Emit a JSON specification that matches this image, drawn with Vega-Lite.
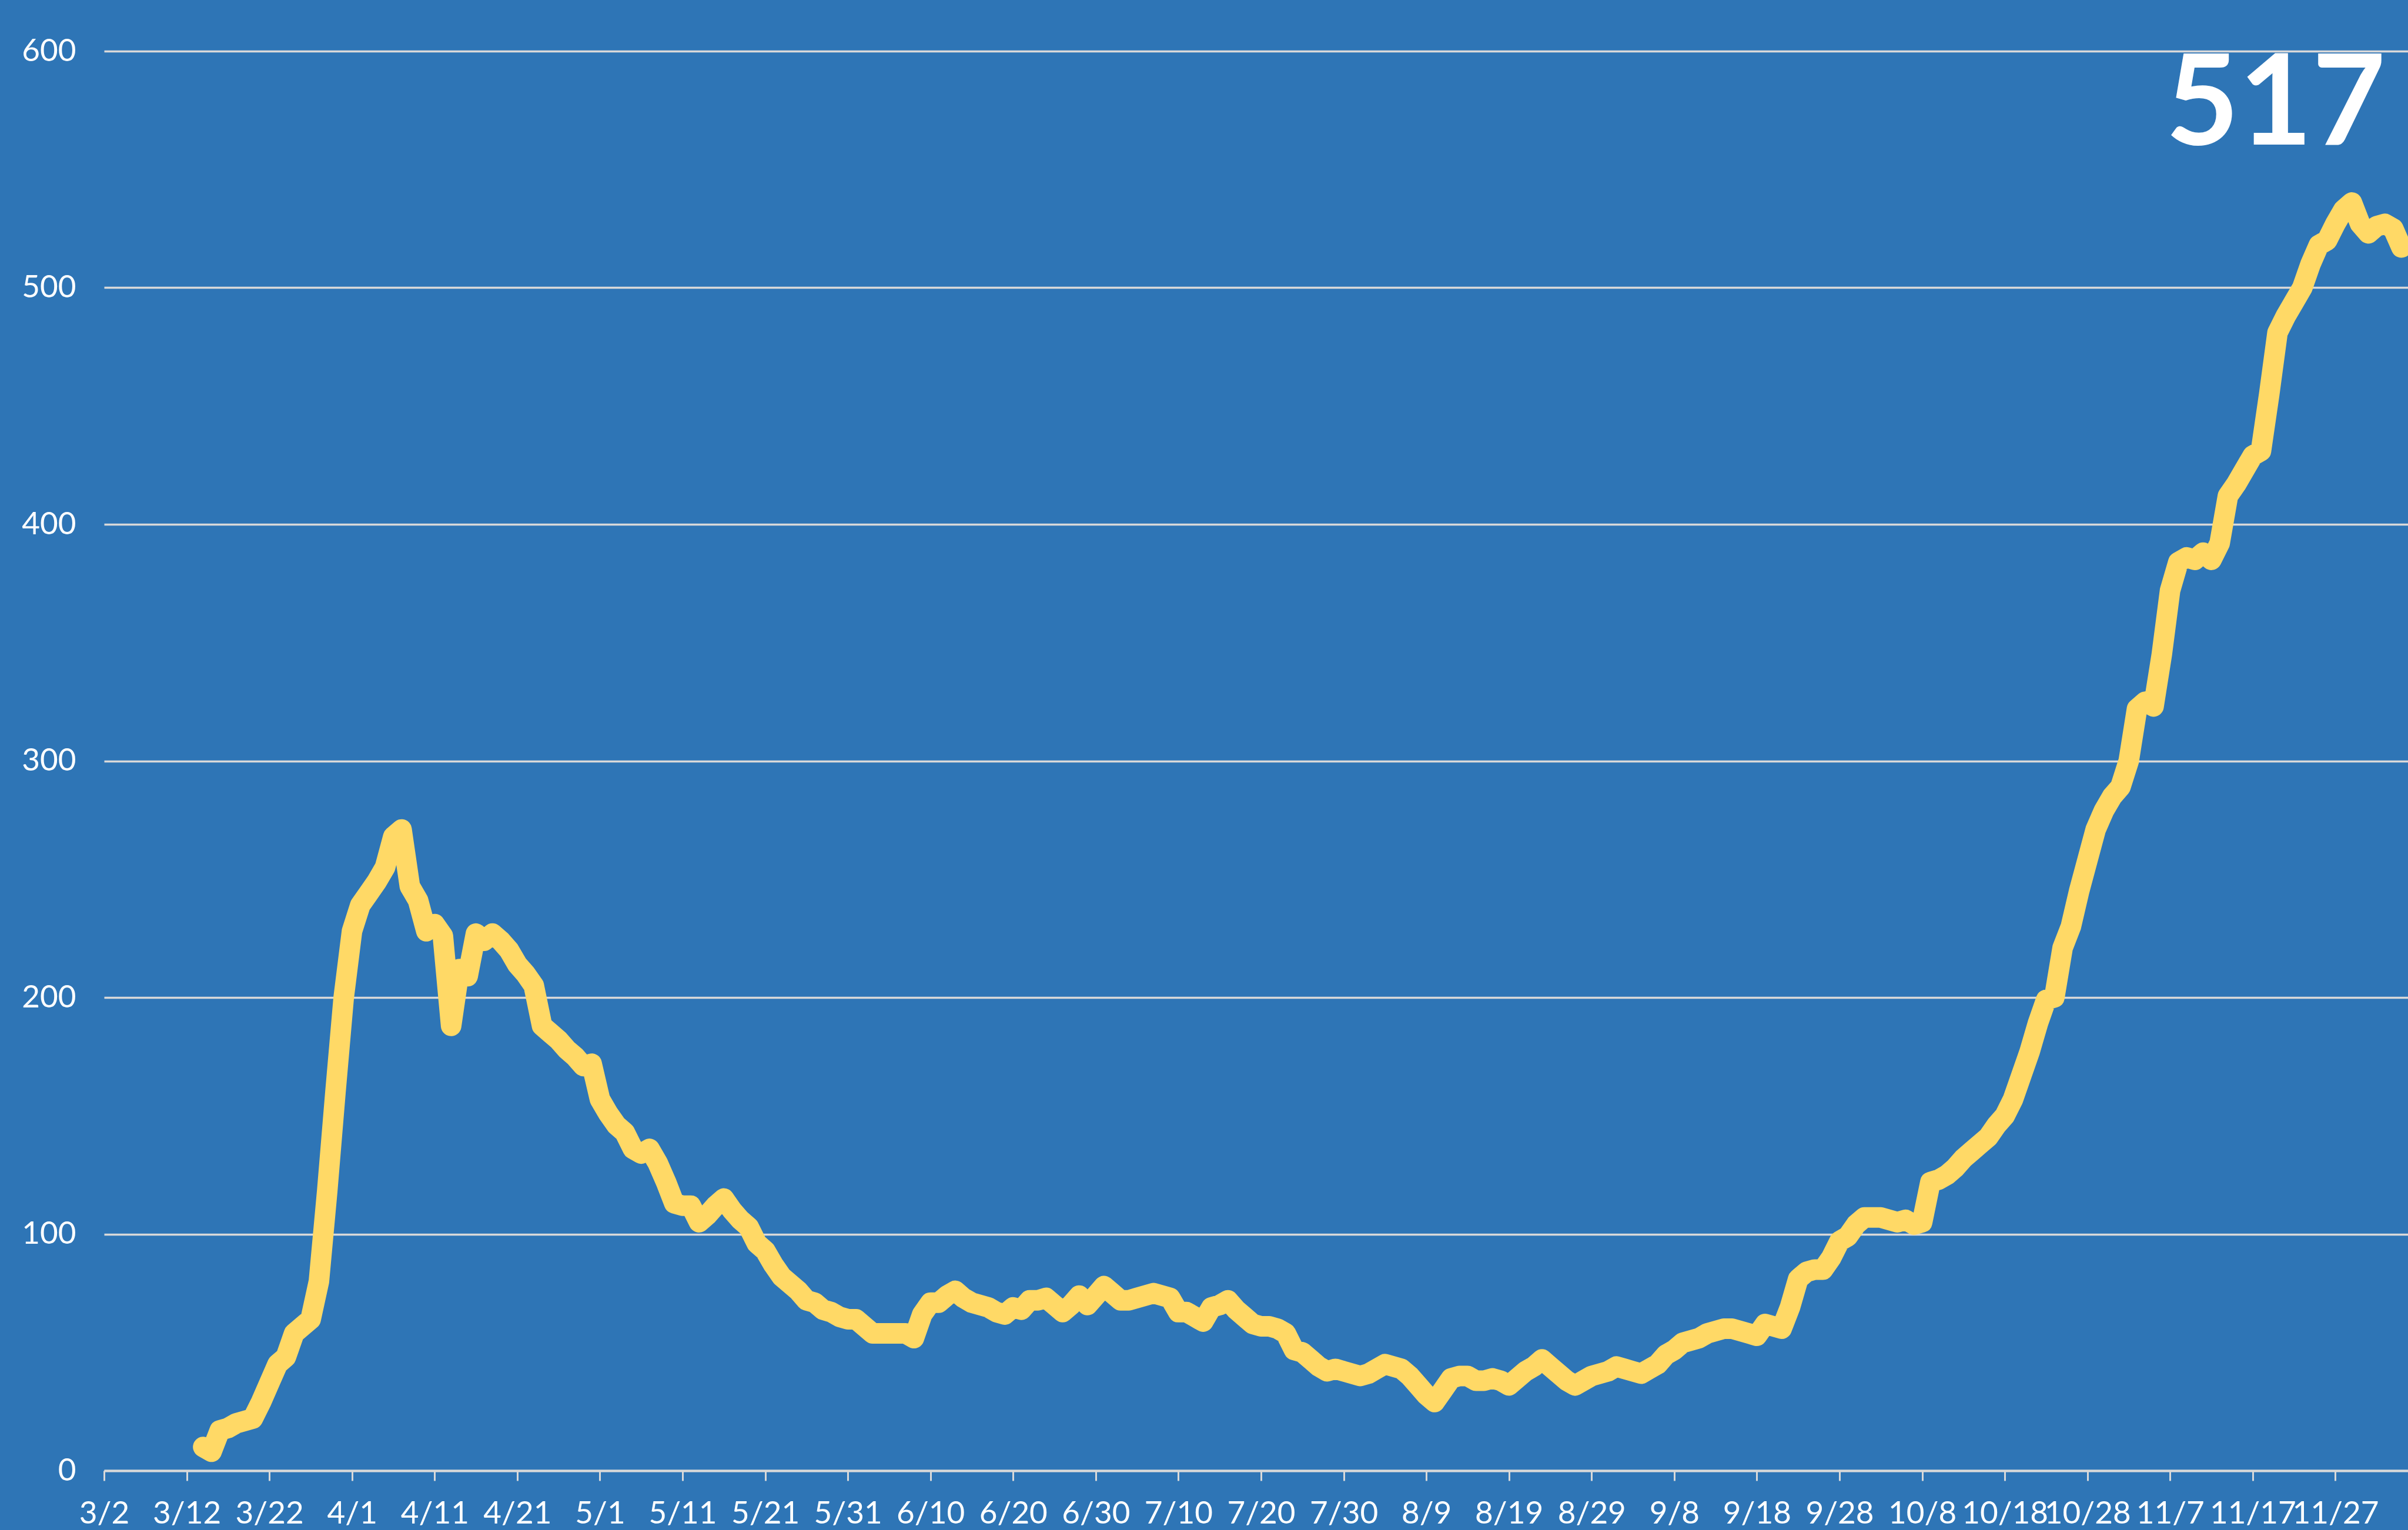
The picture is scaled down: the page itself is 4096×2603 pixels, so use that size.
{
"$schema": "https://vega.github.io/schema/vega-lite/v6.json",
"width": 3919,
"height": 2415,
"autosize": {"type": "none"},
"padding": {"left": 177, "top": 87, "right": 0, "bottom": 101},
"background": "#2E75B6",
"config": {"view": {"stroke": null}, "font": "Lato"},
"data": {"values": [
{"date":"2020-03-14","value":10},{"date":"2020-03-15","value":8},{"date":"2020-03-16","value":17},{"date":"2020-03-17","value":18},{"date":"2020-03-18","value":20},{"date":"2020-03-19","value":21},{"date":"2020-03-20","value":22},{"date":"2020-03-21","value":29},{"date":"2020-03-22","value":37},{"date":"2020-03-23","value":45},{"date":"2020-03-24","value":48},{"date":"2020-03-25","value":58},{"date":"2020-03-26","value":61},{"date":"2020-03-27","value":64},{"date":"2020-03-28","value":80},{"date":"2020-03-29","value":118},{"date":"2020-03-30","value":160},{"date":"2020-03-31","value":200},
{"date":"2020-04-01","value":228},{"date":"2020-04-02","value":239},{"date":"2020-04-03","value":244},{"date":"2020-04-04","value":249},{"date":"2020-04-05","value":255},{"date":"2020-04-06","value":268},{"date":"2020-04-07","value":271},{"date":"2020-04-08","value":247},{"date":"2020-04-09","value":241},{"date":"2020-04-10","value":228},{"date":"2020-04-11","value":231},{"date":"2020-04-12","value":226},{"date":"2020-04-13","value":188},{"date":"2020-04-14","value":212},{"date":"2020-04-15","value":209},{"date":"2020-04-16","value":227},{"date":"2020-04-17","value":224},{"date":"2020-04-18","value":227},{"date":"2020-04-19","value":224},{"date":"2020-04-20","value":220},{"date":"2020-04-21","value":214},{"date":"2020-04-22","value":210},{"date":"2020-04-23","value":205},{"date":"2020-04-24","value":188},{"date":"2020-04-25","value":185},{"date":"2020-04-26","value":182},{"date":"2020-04-27","value":178},{"date":"2020-04-28","value":175},{"date":"2020-04-29","value":171},{"date":"2020-04-30","value":172},
{"date":"2020-05-01","value":157},{"date":"2020-05-02","value":151},{"date":"2020-05-03","value":146},{"date":"2020-05-04","value":143},{"date":"2020-05-05","value":136},{"date":"2020-05-06","value":134},{"date":"2020-05-07","value":136},{"date":"2020-05-08","value":130},{"date":"2020-05-09","value":122},{"date":"2020-05-10","value":113},{"date":"2020-05-11","value":112},{"date":"2020-05-12","value":112},{"date":"2020-05-13","value":105},{"date":"2020-05-14","value":108},{"date":"2020-05-15","value":112},{"date":"2020-05-16","value":115},{"date":"2020-05-17","value":110},{"date":"2020-05-18","value":106},{"date":"2020-05-19","value":103},{"date":"2020-05-20","value":96},{"date":"2020-05-21","value":93},{"date":"2020-05-22","value":87},{"date":"2020-05-23","value":82},{"date":"2020-05-24","value":79},{"date":"2020-05-25","value":76},{"date":"2020-05-26","value":72},{"date":"2020-05-27","value":71},{"date":"2020-05-28","value":68},{"date":"2020-05-29","value":67},{"date":"2020-05-30","value":65},{"date":"2020-05-31","value":64},
{"date":"2020-06-01","value":64},{"date":"2020-06-02","value":61},{"date":"2020-06-03","value":58},{"date":"2020-06-04","value":58},{"date":"2020-06-05","value":58},{"date":"2020-06-06","value":58},{"date":"2020-06-07","value":58},{"date":"2020-06-08","value":56},{"date":"2020-06-09","value":66},{"date":"2020-06-10","value":71},{"date":"2020-06-11","value":71},{"date":"2020-06-12","value":74},{"date":"2020-06-13","value":76},{"date":"2020-06-14","value":73},{"date":"2020-06-15","value":71},{"date":"2020-06-16","value":70},{"date":"2020-06-17","value":69},{"date":"2020-06-18","value":67},{"date":"2020-06-19","value":66},{"date":"2020-06-20","value":69},{"date":"2020-06-21","value":68},{"date":"2020-06-22","value":72},{"date":"2020-06-23","value":72},{"date":"2020-06-24","value":73},{"date":"2020-06-25","value":70},{"date":"2020-06-26","value":67},{"date":"2020-06-27","value":70},{"date":"2020-06-28","value":74},{"date":"2020-06-29","value":70},{"date":"2020-06-30","value":74},
{"date":"2020-07-01","value":78},{"date":"2020-07-02","value":75},{"date":"2020-07-03","value":72},{"date":"2020-07-04","value":72},{"date":"2020-07-05","value":73},{"date":"2020-07-06","value":74},{"date":"2020-07-07","value":75},{"date":"2020-07-08","value":74},{"date":"2020-07-09","value":73},{"date":"2020-07-10","value":67},{"date":"2020-07-11","value":67},{"date":"2020-07-12","value":65},{"date":"2020-07-13","value":63},{"date":"2020-07-14","value":69},{"date":"2020-07-15","value":70},{"date":"2020-07-16","value":72},{"date":"2020-07-17","value":68},{"date":"2020-07-18","value":65},{"date":"2020-07-19","value":62},{"date":"2020-07-20","value":61},{"date":"2020-07-21","value":61},{"date":"2020-07-22","value":60},{"date":"2020-07-23","value":58},{"date":"2020-07-24","value":51},{"date":"2020-07-25","value":50},{"date":"2020-07-26","value":47},{"date":"2020-07-27","value":44},{"date":"2020-07-28","value":42},{"date":"2020-07-29","value":43},{"date":"2020-07-30","value":42},{"date":"2020-07-31","value":41},
{"date":"2020-08-01","value":40},{"date":"2020-08-02","value":41},{"date":"2020-08-03","value":43},{"date":"2020-08-04","value":45},{"date":"2020-08-05","value":44},{"date":"2020-08-06","value":43},{"date":"2020-08-07","value":40},{"date":"2020-08-08","value":36},{"date":"2020-08-09","value":32},{"date":"2020-08-10","value":29},{"date":"2020-08-11","value":34},{"date":"2020-08-12","value":39},{"date":"2020-08-13","value":40},{"date":"2020-08-14","value":40},{"date":"2020-08-15","value":38},{"date":"2020-08-16","value":38},{"date":"2020-08-17","value":39},{"date":"2020-08-18","value":38},{"date":"2020-08-19","value":36},{"date":"2020-08-20","value":39},{"date":"2020-08-21","value":42},{"date":"2020-08-22","value":44},{"date":"2020-08-23","value":47},{"date":"2020-08-24","value":44},{"date":"2020-08-25","value":41},{"date":"2020-08-26","value":38},{"date":"2020-08-27","value":36},{"date":"2020-08-28","value":38},{"date":"2020-08-29","value":40},{"date":"2020-08-30","value":41},{"date":"2020-08-31","value":42},
{"date":"2020-09-01","value":44},{"date":"2020-09-02","value":43},{"date":"2020-09-03","value":42},{"date":"2020-09-04","value":41},{"date":"2020-09-05","value":43},{"date":"2020-09-06","value":45},{"date":"2020-09-07","value":49},{"date":"2020-09-08","value":51},{"date":"2020-09-09","value":54},{"date":"2020-09-10","value":55},{"date":"2020-09-11","value":56},{"date":"2020-09-12","value":58},{"date":"2020-09-13","value":59},{"date":"2020-09-14","value":60},{"date":"2020-09-15","value":60},{"date":"2020-09-16","value":59},{"date":"2020-09-17","value":58},{"date":"2020-09-18","value":57},{"date":"2020-09-19","value":62},{"date":"2020-09-20","value":61},{"date":"2020-09-21","value":60},{"date":"2020-09-22","value":69},{"date":"2020-09-23","value":81},{"date":"2020-09-24","value":84},{"date":"2020-09-25","value":85},{"date":"2020-09-26","value":85},{"date":"2020-09-27","value":90},{"date":"2020-09-28","value":97},{"date":"2020-09-29","value":99},{"date":"2020-09-30","value":104},
{"date":"2020-10-01","value":107},{"date":"2020-10-02","value":107},{"date":"2020-10-03","value":107},{"date":"2020-10-04","value":106},{"date":"2020-10-05","value":105},{"date":"2020-10-06","value":106},{"date":"2020-10-07","value":104},{"date":"2020-10-08","value":105},{"date":"2020-10-09","value":122},{"date":"2020-10-10","value":123},{"date":"2020-10-11","value":125},{"date":"2020-10-12","value":128},{"date":"2020-10-13","value":132},{"date":"2020-10-14","value":135},{"date":"2020-10-15","value":138},{"date":"2020-10-16","value":141},{"date":"2020-10-17","value":146},{"date":"2020-10-18","value":150},{"date":"2020-10-19","value":157},{"date":"2020-10-20","value":167},{"date":"2020-10-21","value":177},{"date":"2020-10-22","value":189},{"date":"2020-10-23","value":199},{"date":"2020-10-24","value":200},{"date":"2020-10-25","value":221},{"date":"2020-10-26","value":230},{"date":"2020-10-27","value":245},{"date":"2020-10-28","value":258},{"date":"2020-10-29","value":271},{"date":"2020-10-30","value":279},{"date":"2020-10-31","value":285},
{"date":"2020-11-01","value":289},{"date":"2020-11-02","value":300},{"date":"2020-11-03","value":322},{"date":"2020-11-04","value":325},{"date":"2020-11-05","value":323},{"date":"2020-11-06","value":345},{"date":"2020-11-07","value":372},{"date":"2020-11-08","value":384},{"date":"2020-11-09","value":386},{"date":"2020-11-10","value":385},{"date":"2020-11-11","value":388},{"date":"2020-11-12","value":385},{"date":"2020-11-13","value":392},{"date":"2020-11-14","value":412},{"date":"2020-11-15","value":417},{"date":"2020-11-16","value":423},{"date":"2020-11-17","value":429},{"date":"2020-11-18","value":431},{"date":"2020-11-19","value":455},{"date":"2020-11-20","value":481},{"date":"2020-11-21","value":488},{"date":"2020-11-22","value":494},{"date":"2020-11-23","value":500},{"date":"2020-11-24","value":510},{"date":"2020-11-25","value":518},{"date":"2020-11-26","value":520},{"date":"2020-11-27","value":527},{"date":"2020-11-28","value":533},{"date":"2020-11-29","value":536},{"date":"2020-11-30","value":527},
{"date":"2020-12-01","value":523},{"date":"2020-12-02","value":526},{"date":"2020-12-03","value":527},{"date":"2020-12-04","value":525},{"date":"2020-12-05","value":517}
]},
"layer": [
{
"mark": {"type": "line", "color": "#FFD966", "strokeWidth": 35, "strokeCap": "round", "strokeJoin": "round"},
"encoding": {
"x": {"field": "date", "type": "temporal",
"scale": {"type": "utc", "nice": false, "domain": [{"year": 2020, "month": 3, "date": 2, "utc": true}, {"year": 2020, "month": 12, "date": 5, "hours": 19, "utc": true}]},
"axis": {"title": null, "grid": false,
"values": [
{"year":2020,"month":3,"date":2,"utc":true},{"year":2020,"month":3,"date":12,"utc":true},{"year":2020,"month":3,"date":22,"utc":true},
{"year":2020,"month":4,"date":1,"utc":true},{"year":2020,"month":4,"date":11,"utc":true},{"year":2020,"month":4,"date":21,"utc":true},
{"year":2020,"month":5,"date":1,"utc":true},{"year":2020,"month":5,"date":11,"utc":true},{"year":2020,"month":5,"date":21,"utc":true},{"year":2020,"month":5,"date":31,"utc":true},
{"year":2020,"month":6,"date":10,"utc":true},{"year":2020,"month":6,"date":20,"utc":true},{"year":2020,"month":6,"date":30,"utc":true},
{"year":2020,"month":7,"date":10,"utc":true},{"year":2020,"month":7,"date":20,"utc":true},{"year":2020,"month":7,"date":30,"utc":true},
{"year":2020,"month":8,"date":9,"utc":true},{"year":2020,"month":8,"date":19,"utc":true},{"year":2020,"month":8,"date":29,"utc":true},
{"year":2020,"month":9,"date":8,"utc":true},{"year":2020,"month":9,"date":18,"utc":true},{"year":2020,"month":9,"date":28,"utc":true},
{"year":2020,"month":10,"date":8,"utc":true},{"year":2020,"month":10,"date":18,"utc":true},{"year":2020,"month":10,"date":28,"utc":true},
{"year":2020,"month":11,"date":7,"utc":true},{"year":2020,"month":11,"date":17,"utc":true},{"year":2020,"month":11,"date":27,"utc":true}
],
"labelExpr": "utcFormat(datum.value, '%-m/%-d')",
"domain": true, "domainColor": "#D9D9D9", "domainWidth": 4,
"ticks": true, "tickColor": "#D9D9D9", "tickWidth": 3, "tickSize": 17,
"labelPadding": 30, "labelFont": "Lato", "labelFontSize": 53, "labelColor": "#FFFFFF",
"labelOverlap": false, "labelFlush": false, "labelBound": false}
},
"y": {"field": "value", "type": "quantitative",
"scale": {"domain": [0, 600], "nice": false, "zero": true},
"axis": {"title": null, "values": [0, 100, 200, 300, 400, 500, 600],
"grid": true, "gridColor": "#D9D9D9", "gridWidth": 3.5,
"domain": false, "ticks": false, "tickSize": 0,
"labelPadding": 48, "labelFont": "Lato", "labelFontSize": 53, "labelColor": "#FFFFFF",
"labelOverlap": false, "labelFlush": false, "labelBound": false}
}
}
},
{
"mark": {"type": "text", "font": "Lato", "fontWeight": "bold", "fontSize": 215, "color": "#FFFFFF", "align": "right", "baseline": "alphabetic", "dx": -27, "dy": 159},
"encoding": {
"x": {"field": "date", "type": "temporal", "aggregate": "max"},
"y": {"datum": 600},
"text": {"field": "value", "type": "quantitative", "aggregate": {"argmax": "date"}}
}
}
]
}
